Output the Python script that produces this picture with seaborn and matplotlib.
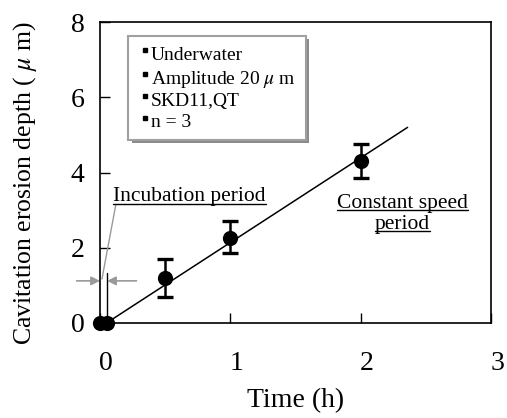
import matplotlib
matplotlib.use("Agg")
import matplotlib.pyplot as plt
import matplotlib.transforms as mtransforms
from matplotlib.patches import Rectangle
from matplotlib.lines import Line2D
import seaborn as sns
import pandas as pd

# Measured erosion depth (mean of n = 3) with error bar extents
time_h = [0.0, 0.05, 0.5, 1.0, 2.0]
depth_um = [0.0, 0.0, 1.2, 2.25, 4.3]
err_low = [0.0, 0.0, 0.5, 0.4, 0.45]
err_high = [0.0, 0.0, 0.5, 0.45, 0.45]

# Linear fit over the constant speed period
fit_time = [0.05, 2.36]
fit_depth = [0.0, 5.2]

x_ticks = [0, 1, 2, 3]
y_ticks = [0, 2, 4, 6, 8]
conditions = ["Underwater", r"Amplitude 20 $\mu$ m", "SKD11,QT", "n = 3"]

sns.set_style("ticks")
plt.rcParams["font.family"] = ["Liberation Serif", "DejaVu Serif"]
plt.rcParams["mathtext.fontset"] = "stix"
for key in ("text.color", "axes.labelcolor", "xtick.color", "ytick.color"):
    plt.rcParams[key] = "black"

fig = plt.figure(figsize=(5.07, 4.18), dpi=100)
ax = fig.add_axes([100 / 507, 1 - 323 / 418, 391 / 507, 301 / 418])

df = pd.DataFrame({"t": time_h, "d": depth_um})
fit_df = pd.DataFrame({"t": fit_time, "d": fit_depth})

sns.lineplot(data=fit_df, x="t", y="d", color="black", lw=1.1, ax=ax, zorder=2)
ax.errorbar(time_h[2:], depth_um[2:], yerr=[err_low[2:], err_high[2:]],
            fmt="none", ecolor="black", elinewidth=1.8, capsize=5.5,
            capthick=2.4, zorder=3)
sns.scatterplot(data=df, x="t", y="d", color="black", s=120, marker="o",
                edgecolor="black", linewidth=0, ax=ax, zorder=4, clip_on=False)

ax.set_xlim(0, 3)
ax.set_ylim(0, 8)
ax.set_xticks(x_ticks)
ax.set_yticks(y_ticks)
ax.tick_params(direction="in", length=7, width=1.0, labelsize=20, color="black")
ax.tick_params(axis="x", pad=20)
ax.tick_params(axis="y", pad=11)
for s in ax.spines.values():
    s.set_visible(True)
    s.set_linewidth(1.2)
    s.set_color("black")

# shift x tick labels slightly right
offset = mtransforms.ScaledTranslation(6 / 100, 0, fig.dpi_scale_trans)
for lab in ax.get_xticklabels():
    lab.set_transform(lab.get_transform() + offset)

ax.set_xlabel("Time (h)", fontsize=20, labelpad=9)
ax.set_ylabel(r"Cavitation erosion depth ( $\mu$ m)", fontsize=18.5)
ax.yaxis.set_label_coords(-0.155, 0.465)

# incubation marker: vertical line and inward arrows
ax.plot([0.05, 0.05], [0, 1.33], color="black", lw=1.0, zorder=2)
gray = "#9a9a9a"
ax.annotate("", xy=(0.0, 1.12), xytext=(-0.18, 1.12), annotation_clip=False,
            arrowprops=dict(arrowstyle="-|>", color=gray, lw=1.2,
                            mutation_scale=13, shrinkA=0, shrinkB=0))
ax.annotate("", xy=(0.054, 1.12), xytext=(0.28, 1.12), annotation_clip=False,
            arrowprops=dict(arrowstyle="-|>", color=gray, lw=1.2,
                            mutation_scale=13, shrinkA=0, shrinkB=0))
ax.plot([0.12, 0.015], [3.12, 1.17], color=gray, lw=1.0, zorder=1)

# condition box with shadow
box_kw = dict(transform=ax.transData, clip_on=False)
ax.add_patch(Rectangle((0.245, 4.79), 1.362, 2.76, facecolor="#8c8c8c",
                       edgecolor="none", zorder=5, **box_kw))
ax.add_patch(Rectangle((0.215, 4.87), 1.362, 2.76, facecolor="white",
                       edgecolor="#a0a0a0", lw=1.5, zorder=6, **box_kw))
line_y = [7.0, 6.35, 5.76, 5.2]
for yy, txt in zip(line_y, conditions):
    ax.text(0.39, yy, txt, fontsize=14, va="baseline", ha="left", zorder=7)
ax.plot([0.345] * len(line_y), [yy + 0.26 for yy in line_y], ls="none",
        marker="s", markersize=2.6, color="black", zorder=7)

# underlined annotations
t1 = ax.text(0.1, 3.24, "Incubation period", fontsize=15.5, va="baseline", ha="left")
t2 = ax.text(2.32, 3.06, "Constant speed", fontsize=15.5, va="baseline", ha="center")
t3 = ax.text(2.32, 2.5, "period", fontsize=15.5, va="baseline", ha="center")

fig.canvas.draw()
renderer = fig.canvas.get_renderer()
for t in (t1, t2, t3):
    bb = t.get_window_extent(renderer)
    base = ax.transData.transform(t.get_position())[1]
    y = base - 2.5
    fig.add_artist(Line2D([bb.x0, bb.x1], [y, y], color="black", lw=1.0,
                          transform=None))

fig.savefig("out.png", dpi=100)
